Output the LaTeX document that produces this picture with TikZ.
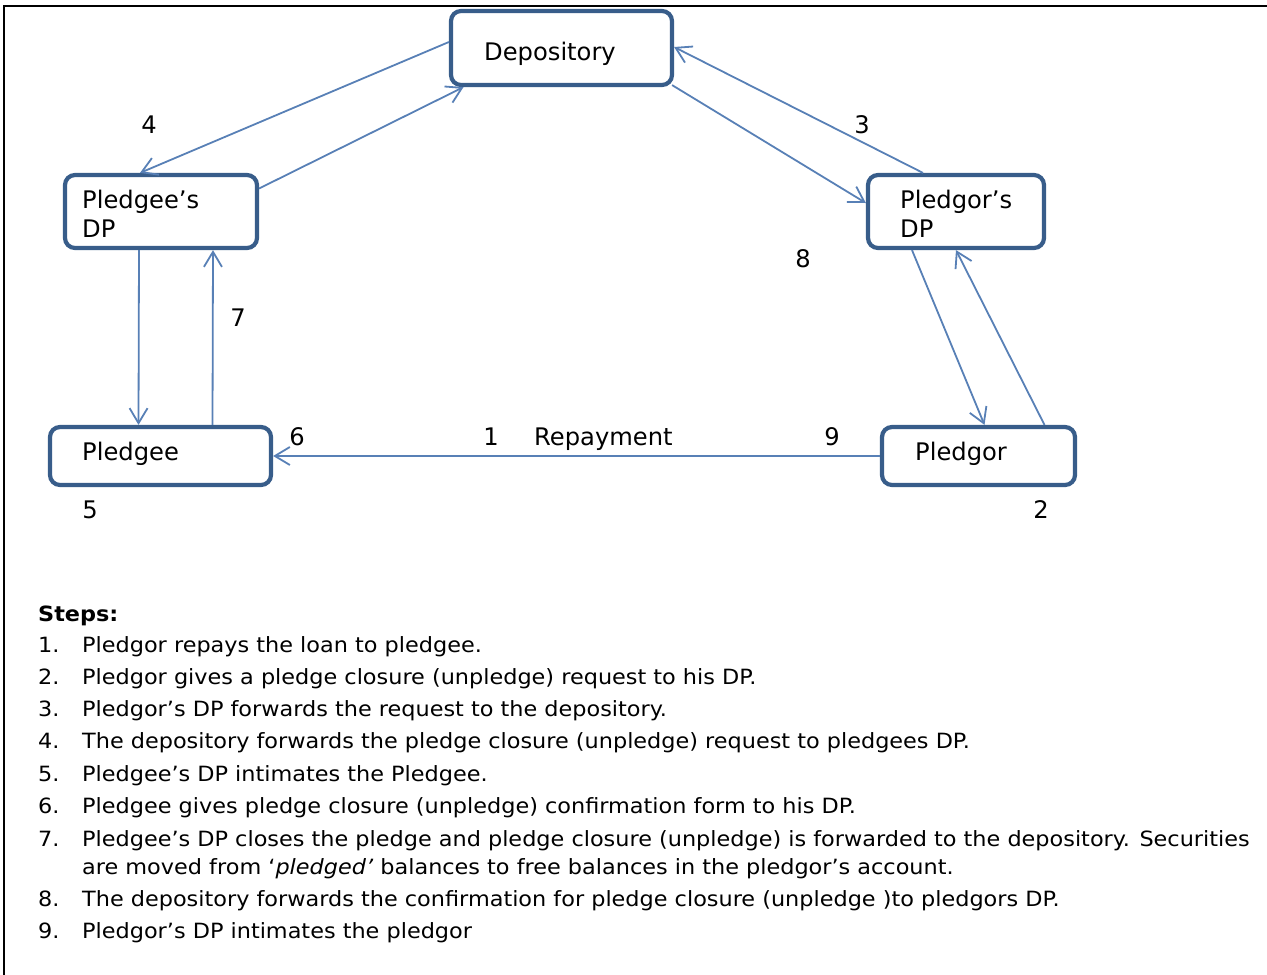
\documentclass[tikz,border=0pt]{standalone}
\usepackage{fontspec}
\setmainfont{DejaVu Sans}
\newfontfamily\stepfont{DejaVu Sans}[FakeStretch=1.065]
\usetikzlibrary{arrows.meta}
\definecolor{boxblue}{RGB}{56,93,138}
\definecolor{arrblue}{RGB}{88,128,182}
\tikzset{
  stepbox/.style={draw=boxblue, line width=4.2pt, rounded corners=10pt, fill=white, inner sep=0pt},
  link/.style={draw=arrblue, line width=1.8pt, -{Straight Barb[length=15pt,width=18pt,line width=1.8pt]}},
  lbl/.style={font=\fontsize{24.2}{29}\selectfont, inner sep=0pt, anchor=base},
  steptxt/.style={font=\stepfont\fontsize{21}{26}\selectfont, inner sep=0pt, anchor=base west},
}
\begin{document}
\begin{tikzpicture}[x=1pt,y=-1pt]
\useasboundingbox (0,0) rectangle (1267,975);
\draw[line width=2.5pt] (1267,6) -- (4,6) -- (4,975);

% boxes
\node[stepbox, minimum width=221pt, minimum height=74pt] (dep) at (561.5,48) {};
\node[stepbox, minimum width=192pt, minimum height=73pt] (pDP) at (161,211.5) {};
\node[stepbox, minimum width=176pt, minimum height=73pt] (rDP) at (956,211.5) {};
\node[stepbox, minimum width=221pt, minimum height=58pt] (pge) at (160.5,456) {};
\node[stepbox, minimum width=193pt, minimum height=58pt] (pgr) at (978.5,456) {};

% box texts
\node[lbl, anchor=base west] (depT) at (484,60) {Depository};
\node[lbl, anchor=base west] (pDPT1) at (82,208) {Pledgee’s};
\node[lbl, anchor=base west] (pDPT2) at (82,237.5) {DP};
\node[lbl, anchor=base west] (rDPT1) at (900,208) {Pledgor’s};
\node[lbl, anchor=base west] (rDPT2) at (900,237.5) {DP};
\node[lbl, anchor=base west] (pgeT) at (82,460) {Pledgee};
\node[lbl, anchor=base west] (pgrT) at (915,460) {Pledgor};

% connectors
\draw[link] ([yshift=6pt]dep.west) -- ([xshift=-21pt]pDP.north);
\draw[link] ([yshift=23pt]pDP.east) -- ([xshift=-98pt]dep.south);
\draw[link] ([xshift=-33pt]rDP.north) -- ([yshift=1pt]dep.east);
\draw[link] ([xshift=-2pt,yshift=2pt]dep.south east) -- ([yshift=8.5pt]rDP.west);
\draw[link] ([xshift=-22pt]pDP.south) -- ([xshift=-22pt]pge.north);
\draw[link] ([xshift=52pt]pge.north) -- ([xshift=52pt]pDP.south);
\draw[link] ([xshift=-44pt]rDP.south) -- ([xshift=6pt]pgr.north);
\draw[link] ([xshift=66pt]pgr.north) -- ([xshift=0pt]rDP.south);
\draw[link] (pgr.west) -- (pge.east);

% step numbers on diagram
\node[lbl] (n4) at (149,133) {4};
\node[lbl] (n3) at (862,133) {3};
\node[lbl] (n7) at (238,326) {7};
\node[lbl] (n8) at (803,267) {8};
\node[lbl] (n6) at (297,445) {6};
\node[lbl] (n1) at (491,445) {1};
\node[lbl, anchor=base west] (rep) at (534,445) {Repayment};
\node[lbl] (n9) at (832,445) {9};
\node[lbl] (n5) at (90,518) {5};
\node[lbl] (n2) at (1041,518) {2};

% steps list
\node[steptxt] (sh) at (38,621) {\bfseries Steps:};
\node[steptxt] (s1n) at (38,652) {1.};
\node[steptxt] (s1) at (82,652) {Pledgor repays the loan to pledgee.};
\node[steptxt] (s2n) at (38,684) {2.};
\node[steptxt] (s2) at (82,684) {Pledgor gives a pledge closure (unpledge) request to his DP.};
\node[steptxt] (s3n) at (38,716) {3.};
\node[steptxt] (s3) at (82,716) {Pledgor’s DP forwards the request to the depository.};
\node[steptxt] (s4n) at (38,748) {4.};
\node[steptxt] (s4) at (82,748) {The depository forwards the pledge closure (unpledge) request to pledgees DP.};
\node[steptxt] (s5n) at (38,781) {5.};
\node[steptxt] (s5) at (82,781) {Pledgee’s DP intimates the Pledgee.};
\node[steptxt] (s6n) at (38,813) {6.};
\node[steptxt] (s6) at (82,813) {Pledgee gives pledge closure (unpledge) confirmation form to his DP.};
\node[steptxt] (s7n) at (38,846) {7.};
\node[steptxt] (s7) at (82,846) {Pledgee’s DP closes the pledge and pledge closure (unpledge) is forwarded to the depository. Securities};
\node[steptxt] (s7b) at (82,874) {are moved from ‘\textit{pledged’} balances to free balances in the pledgor’s account.};
\node[steptxt] (s8n) at (38,906) {8.};
\node[steptxt] (s8) at (82,906) {The depository forwards the confirmation for pledge closure (unpledge )to pledgors DP.};
\node[steptxt] (s9n) at (38,938) {9.};
\node[steptxt] (s9) at (82,938) {Pledgor’s DP intimates the pledgor};
\end{tikzpicture}
\end{document}
